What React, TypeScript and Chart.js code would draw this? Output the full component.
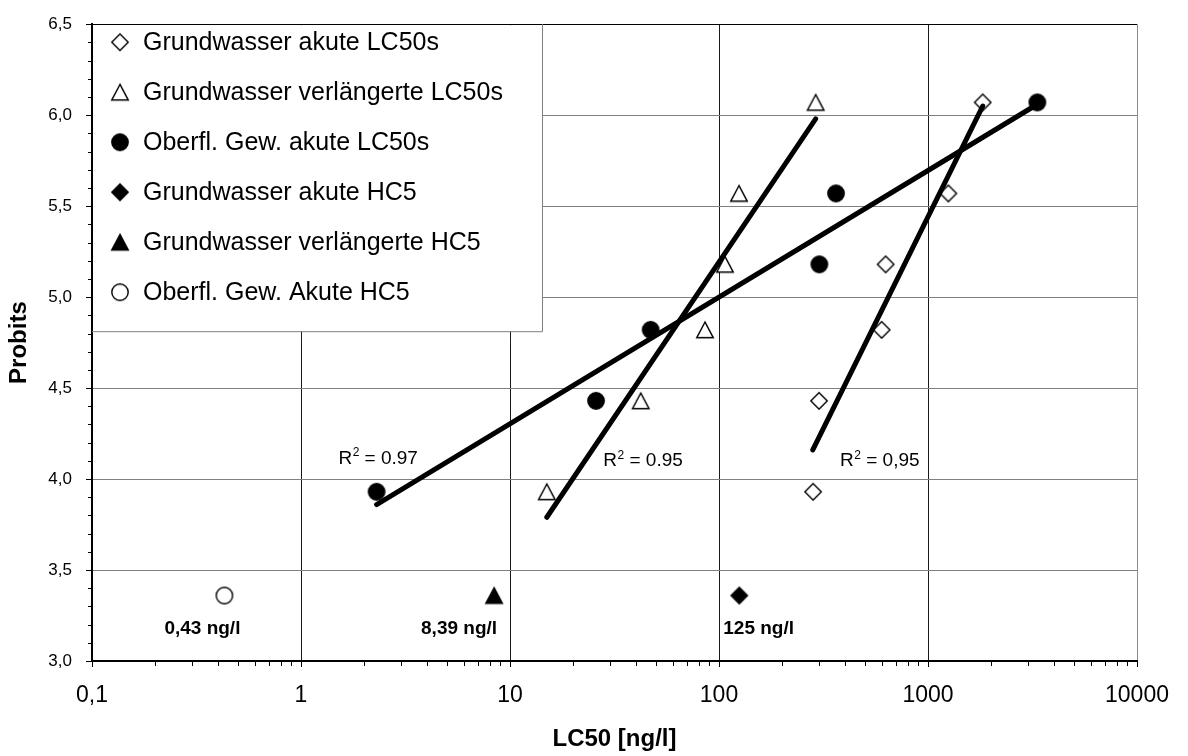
import { useEffect, useRef } from 'react';
import { Chart, registerables } from 'chart.js';

Chart.register(...registerables);

const FONT = "'Liberation Sans', Arial, Helvetica, sans-serif";

// Probit values shared by all LC50 series (ranked species, i/(n+1))
const PROBITS = [3.93, 4.43, 4.82, 5.18, 5.57, 6.07];

// LC50 values in ng/l
const GW_ACUTE_LC50 = [282, 301, 600, 627, 1251, 1827];
const GW_EXT_LC50 = [15.0, 42.2, 85.7, 106.8, 124.6, 290];
const SW_ACUTE_LC50 = [2.3, 25.8, 47.1, 302, 363, 3336];

// HC5 estimates in ng/l
const HC5_PROBIT = 3.36;
const GW_ACUTE_HC5 = 125;
const GW_EXT_HC5 = 8.39;
const SW_ACUTE_HC5 = 0.43;
const HC5_LABELS = ['0,43 ng/l', '8,39 ng/l', '125 ng/l'];

// Regression lines: [LC50, probit] start and end points
const FIT_SW_ACUTE = [[2.3, 3.86], [3336, 6.06]];
const FIT_GW_EXT = [[15.0, 3.79], [290, 5.98]];
const FIT_GW_ACUTE = [[281, 4.16], [1827, 6.05]];

// Coefficients of determination and where their labels sit
const R2_VALUES = ['0.97', '0.95', '0,95'];
const R2_ANCHORS = [[1.51, 4.085], [27.95, 4.071], [379.5, 4.071]];

const X_TICKS = [0.1, 1, 10, 100, 1000, 10000];
const X_TICK_LABELS = ['0,1', '1', '10', '100', '1000', '10000'];
const Y_TICK_LABELS = ['3,0', '3,5', '4,0', '4,5', '5,0', '5,5', '6,0', '6,5'];

const LEGEND_LABELS = [
  'Grundwasser akute LC50s',
  'Grundwasser verlängerte LC50s',
  'Oberfl. Gew. akute LC50s',
  'Grundwasser akute HC5',
  'Grundwasser verlängerte HC5',
  'Oberfl. Gew. Akute HC5',
];

type MarkerKind = 'diamond' | 'triangle' | 'circle';

function makeMarker(kind: MarkerKind, filled: boolean): HTMLCanvasElement {
  const s = 22;
  const c = document.createElement('canvas');
  c.width = s;
  c.height = s;
  const g = c.getContext('2d')!;
  const m = s / 2;
  g.lineWidth = 1.4;
  g.strokeStyle = '#000';
  g.fillStyle = filled ? '#000' : '#fff';
  g.beginPath();
  if (kind === 'diamond') {
    const r = 8.2;
    g.moveTo(m, m - r);
    g.lineTo(m + r, m);
    g.lineTo(m, m + r);
    g.lineTo(m - r, m);
    g.closePath();
  } else if (kind === 'triangle') {
    const w = 16.6;
    const h = 15.6;
    g.moveTo(m, m - h / 2);
    g.lineTo(m + w / 2, m + h / 2);
    g.lineTo(m - w / 2, m + h / 2);
    g.closePath();
  } else {
    g.arc(m, m, 8.2, 0, Math.PI * 2);
  }
  g.fill();
  g.stroke();
  return c;
}

const pts = (xs: number[], ys: number[]) => xs.map((x, i) => ({ x, y: ys[i] }));
const seg = (p: number[][]) => p.map(([x, y]) => ({ x, y }));

export default function App() {
  const ref = useRef<HTMLCanvasElement>(null);

  useEffect(() => {
    const markers = [
      makeMarker('diamond', false),
      makeMarker('triangle', false),
      makeMarker('circle', true),
      makeMarker('diamond', true),
      makeMarker('triangle', true),
      makeMarker('circle', false),
    ];

    const lineDs = (p: number[][]) => ({
      label: '',
      data: seg(p),
      showLine: true,
      borderColor: '#000',
      borderWidth: 5,
      borderCapStyle: 'round' as const,
      pointRadius: 0,
      pointHoverRadius: 0,
    });

    const markerDs = (i: number, data: { x: number; y: number }[]) => ({
      label: LEGEND_LABELS[i],
      data,
      pointStyle: markers[i],
      pointRadius: 9,
      showLine: false,
    });

    const legendPlugin = {
      id: 'legendBox',
      beforeDatasetsDraw(chart: any) {
        const { ctx, chartArea } = chart;
        const left = chartArea.left;
        const top = chartArea.top;
        const w = 450;
        const h = 307;
        ctx.save();
        ctx.fillStyle = '#fff';
        ctx.fillRect(left + 1, top + 1, w - 1, h - 1);
        ctx.strokeStyle = '#808080';
        ctx.lineWidth = 1;
        ctx.beginPath();
        ctx.moveTo(left + w + 0.5, top);
        ctx.lineTo(left + w + 0.5, top + h + 0.5);
        ctx.lineTo(left, top + h + 0.5);
        ctx.stroke();
        ctx.font = `25px ${FONT}`;
        ctx.fillStyle = '#000';
        ctx.textAlign = 'left';
        ctx.textBaseline = 'alphabetic';
        LEGEND_LABELS.forEach((label, i) => {
          const cy = top + 18 + i * 50;
          const img = markers[i];
          ctx.drawImage(img, left + 28 - img.width / 2, cy - img.height / 2);
          ctx.fillText(label, left + 51, cy + 8);
        });
        ctx.restore();
      },
    };

    const annotationPlugin = {
      id: 'annotations',
      afterDatasetsDraw(chart: any) {
        const { ctx, scales } = chart;
        const { x, y } = scales;
        ctx.save();
        ctx.fillStyle = '#000';
        ctx.textBaseline = 'alphabetic';
        // R² labels
        R2_VALUES.forEach((val, i) => {
          const px = x.getPixelForValue(R2_ANCHORS[i][0]);
          const py = y.getPixelForValue(R2_ANCHORS[i][1]);
          ctx.textAlign = 'left';
          ctx.font = `19px ${FONT}`;
          ctx.fillText('R', px, py);
          const rw = ctx.measureText('R').width;
          ctx.font = `12px ${FONT}`;
          ctx.fillText('2', px + rw + 0.5, py - 7.5);
          const sw = ctx.measureText('2').width;
          ctx.font = `19px ${FONT}`;
          ctx.fillText(' = ' + val, px + rw + sw + 0.5, py);
        });
        // HC5 value labels
        const yBase = y.getPixelForValue(HC5_PROBIT) + 38;
        ctx.font = `bold 19px ${FONT}`;
        ctx.textAlign = 'center';
        ctx.fillText(HC5_LABELS[0], x.getPixelForValue(SW_ACUTE_HC5) - 22, yBase);
        ctx.textAlign = 'right';
        ctx.fillText(HC5_LABELS[1], x.getPixelForValue(GW_EXT_HC5) + 3, yBase);
        ctx.textAlign = 'left';
        ctx.fillText(HC5_LABELS[2], x.getPixelForValue(GW_ACUTE_HC5) - 16, yBase);
        ctx.restore();
      },
    };

    const minorTicksPlugin = {
      id: 'minorTicks',
      afterDraw(chart: any) {
        const { ctx, chartArea, scales } = chart;
        const { x, y } = scales;
        ctx.save();
        ctx.strokeStyle = '#000';
        ctx.lineWidth = 1;
        ctx.beginPath();
        for (let d = 0; d < X_TICKS.length - 1; d++) {
          for (let k = 2; k <= 9; k++) {
            const px = Math.round(x.getPixelForValue(X_TICKS[d] * k)) + 0.5;
            ctx.moveTo(px, chartArea.bottom);
            ctx.lineTo(px, chartArea.bottom + 5);
          }
        }
        for (let i = 31; i < 65; i++) {
          if (i % 5 === 0) continue;
          const py = Math.round(y.getPixelForValue(i / 10)) + 0.5;
          ctx.moveTo(chartArea.left - 4, py);
          ctx.lineTo(chartArea.left, py);
        }
        ctx.stroke();
        ctx.restore();
      },
    };

    const chart = new Chart(ref.current!, {
      type: 'scatter',
      data: {
        datasets: [
          lineDs(FIT_SW_ACUTE),
          lineDs(FIT_GW_EXT),
          lineDs(FIT_GW_ACUTE),
          markerDs(0, pts(GW_ACUTE_LC50, PROBITS)),
          markerDs(1, pts(GW_EXT_LC50, PROBITS)),
          markerDs(2, pts(SW_ACUTE_LC50, PROBITS)),
          markerDs(3, [{ x: GW_ACUTE_HC5, y: HC5_PROBIT }]),
          markerDs(4, [{ x: GW_EXT_HC5, y: HC5_PROBIT }]),
          markerDs(5, [{ x: SW_ACUTE_HC5, y: HC5_PROBIT }]),
        ] as any,
      },
      options: {
        animation: false,
        responsive: false,
        maintainAspectRatio: false,
        devicePixelRatio: 1,
        layout: { padding: { top: 15, right: 51, bottom: 0, left: 0 } },
        plugins: {
          legend: { display: false },
          tooltip: { enabled: false },
        },
        scales: {
          x: {
            type: 'logarithmic',
            position: 'bottom',
            min: 0.1,
            max: 10000,
            afterBuildTicks: (s: any) => {
              s.ticks = X_TICKS.map((v) => ({ value: v, major: true }));
            },
            afterFit: (s: any) => {
              s.height = 95;
            },
            ticks: {
              autoSkip: false,
              maxRotation: 0,
              minRotation: 0,
              padding: 15,
              color: '#000',
              font: { family: FONT, size: 23 },
              callback: (_v: any, i: number) => X_TICK_LABELS[i],
            },
            grid: {
              color: (c: any) => (c.tick && c.tick.value === 10000 ? '#8c8c8c' : '#1a1a1a'),
              lineWidth: 1,
              tickLength: 6,
              tickColor: '#000',
            },
            border: { color: '#000', width: 2 },
            title: {
              display: true,
              text: 'LC50 [ng/l]',
              color: '#000',
              font: { family: FONT, size: 24, weight: 'bold' },
              padding: { top: 0, bottom: 2 },
            },
          },
          y: {
            type: 'linear',
            min: 3,
            max: 6.5,
            afterFit: (s: any) => {
              s.width = 92;
            },
            ticks: {
              stepSize: 0.5,
              padding: 14,
              color: '#000',
              font: { family: FONT, size: 17 },
              callback: (_v: any, i: number) => Y_TICK_LABELS[i],
            },
            grid: {
              color: (c: any) => (c.tick && c.tick.value === 6.5 ? '#000' : '#808080'),
              lineWidth: 1,
              tickLength: 6,
              tickColor: '#000',
            },
            border: { color: '#000', width: 2 },
            title: {
              display: true,
              text: 'Probits',
              color: '#000',
              font: { family: FONT, size: 24, weight: 'bold' },
              padding: { top: 5, bottom: 0 },
            },
          },
        },
      } as any,
      plugins: [legendPlugin, annotationPlugin, minorTicksPlugin],
    });

    return () => chart.destroy();
  }, []);

  return (
    <div style={{ position: 'fixed', left: 0, top: 0, width: 1188, height: 756, background: '#fff' }}>
      <canvas ref={ref} width={1188} height={756} style={{ display: 'block' }} />
    </div>
  );
}
